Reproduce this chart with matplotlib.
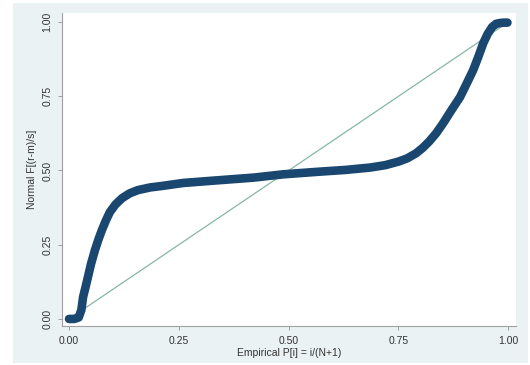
import matplotlib
matplotlib.use("Agg")
import matplotlib.pyplot as plt
from matplotlib.patches import Rectangle

plt.rcParams['font.family'] = ['Liberation Sans', 'DejaVu Sans']

# Empirical P[i] vs Normal F[(r-m)/s]
emp_p = [0.000, 0.012, 0.022, 0.028, 0.032, 0.038, 0.043, 0.050, 0.059, 0.067,
         0.075, 0.084, 0.093, 0.106, 0.121, 0.138, 0.157, 0.185, 0.212, 0.260,
         0.330, 0.420, 0.487, 0.560, 0.630, 0.686, 0.720, 0.750, 0.770, 0.790,
         0.805, 0.820, 0.836, 0.852, 0.870, 0.890, 0.905, 0.920, 0.932, 0.943,
         0.953, 0.963, 0.972, 0.982, 0.990, 0.998]
norm_f = [0.000, 0.000, 0.005, 0.030, 0.074, 0.110, 0.141, 0.185, 0.232, 0.268,
          0.300, 0.332, 0.360, 0.386, 0.407, 0.423, 0.434, 0.443, 0.448, 0.458,
          0.466, 0.476, 0.487, 0.495, 0.502, 0.510, 0.518, 0.530, 0.541, 0.558,
          0.576, 0.598, 0.626, 0.660, 0.702, 0.747, 0.792, 0.838, 0.884, 0.929,
          0.960, 0.983, 0.994, 0.997, 0.998, 0.998]
ref_x = [0.0, 1.0]
ref_y = [0.0, 1.0]
ticks = [0.00, 0.25, 0.50, 0.75, 1.00]
tick_labels = ["0.00", "0.25", "0.50", "0.75", "1.00"]

fig = plt.figure(figsize=(5.30, 3.65), dpi=100)
fig.patch.set_facecolor('white')
bg = Rectangle((0.0245, 0.005), 0.9715, 0.987, transform=fig.transFigure,
               facecolor='#eaf2f3', edgecolor='none', zorder=-10)
fig.add_artist(bg)

ax = fig.add_axes([0.117, 0.107, 0.857, 0.857])
ax.set_zorder(1)
ax.set_facecolor('white')

ax.plot(ref_x, ref_y, color='#86b6a6', lw=0.9, zorder=2)
ax.plot(emp_p, norm_f, color='#1a476f', lw=6.2, solid_capstyle='round',
        solid_joinstyle='round', zorder=3)

ax.set_xlim(-0.016, 1.018)
ax.set_ylim(-0.0236, 1.030)
ax.set_xticks(ticks)
ax.set_xticklabels(tick_labels)
ax.set_yticks(ticks)
ax.set_yticklabels(tick_labels, rotation=90, va='center')

for s in ['top', 'right']:
    ax.spines[s].set_visible(False)
for s in ['left', 'bottom']:
    ax.spines[s].set_color('#a0a0a0')
    ax.spines[s].set_linewidth(0.8)
ax.tick_params(axis='both', colors='#a0a0a0', length=3, width=0.7,
               labelsize=7.5, labelcolor='#333333')
ax.tick_params(axis='x', pad=4)
ax.tick_params(axis='y', pad=4)

ax.set_xlabel("Empirical P[i] = i/(N+1)", fontsize=7.5, color='#333333', labelpad=2)
ax.set_ylabel("Normal F[(r-m)/s]", fontsize=7.5, color='#333333', labelpad=4)

fig.savefig("out.png", dpi=100, facecolor=fig.get_facecolor())
